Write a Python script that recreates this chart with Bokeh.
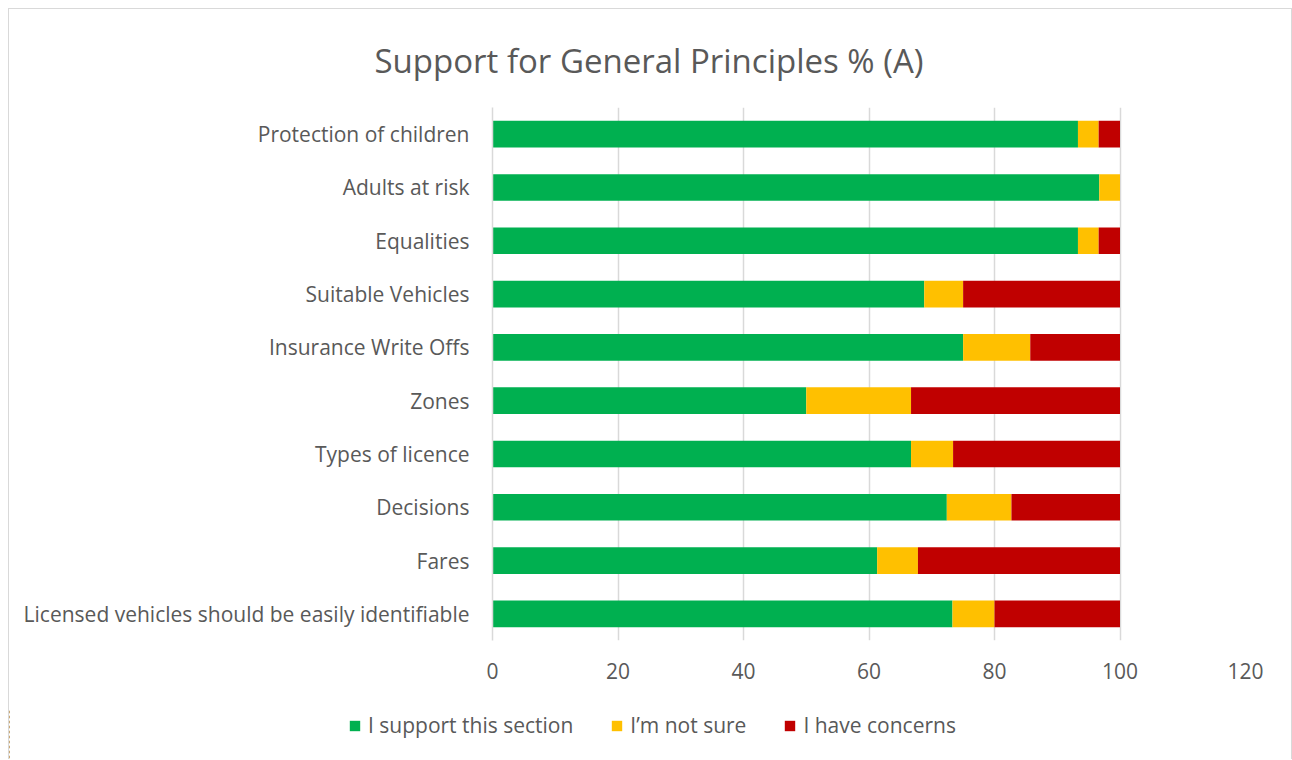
from bokeh.plotting import figure
from bokeh.layouts import column
from bokeh.models import FactorRange, Legend, LegendItem, FixedTicker, ColumnDataSource
from bokeh.embed import file_html
from bokeh.resources import INLINE

categories = [
    "Protection of children",
    "Adults at risk",
    "Equalities",
    "Suitable Vehicles",
    "Insurance Write Offs",
    "Zones",
    "Types of licence",
    "Decisions",
    "Fares",
    "Licensed vehicles should be easily identifiable",
]
support = [93.3, 96.7, 93.3, 68.8, 75.0, 50.0, 66.7, 72.4, 61.3, 73.3]
not_sure = [3.3, 3.3, 3.3, 6.2, 10.7, 16.7, 6.7, 10.3, 6.5, 6.7]
concerns = [3.4, 0.0, 3.4, 25.0, 14.3, 33.3, 26.6, 17.3, 32.2, 20.0]
series_names = ["I support this section", "I\u2019m not sure", "I have concerns"]
series_colors = ["#00B050", "#FFC000", "#C00000"]
x_ticks = [0, 20, 40, 60, 80, 100, 120]
title_text = "Support for General Principles %  (A)"

FONT = "Open Sans"
TXT = "#595959"

source = ColumnDataSource(dict(cat=categories, s=support, n=not_sure, c=concerns))

p = figure(
    width=1282, height=700,
    y_range=FactorRange(factors=list(reversed(categories))),
    x_range=(0, 120),
    output_backend="svg", toolbar_location=None,
    min_border_left=483, min_border_right=46, min_border_top=98, min_border_bottom=69,
)
p.outline_line_color = None

p.hbar_stack(["s", "n", "c"], y="cat", height=0.5, color=series_colors,
             source=source, line_color=None)

# title
p.title.text = title_text
p.title.align = "left"
p.title.offset = -118
p.title.vertical_align = "bottom"
p.title.standoff = 50
p.title.text_font = FONT
p.title.text_font_size = "33px"
p.title.text_font_style = "normal"
p.title.text_color = TXT

# axes
p.xaxis.ticker = FixedTicker(ticks=x_ticks)
p.xaxis.axis_line_color = None
p.xaxis.major_tick_line_color = None
p.xaxis.minor_tick_line_color = None
p.xaxis.major_tick_out = 0
p.xaxis.major_tick_in = 0
p.xaxis.major_label_standoff = 22
p.xaxis.major_label_text_font = FONT
p.xaxis.major_label_text_font_size = "21px"
p.xaxis.major_label_text_color = TXT

p.yaxis.axis_line_color = "#d9d9d9"
p.yaxis.axis_line_width = 1.5
p.yaxis.major_tick_line_color = None
p.yaxis.major_tick_out = 0
p.yaxis.major_tick_in = 0
p.yaxis.major_label_standoff = 23
p.yaxis.major_label_text_font = FONT
p.yaxis.major_label_text_font_size = "21px"
p.yaxis.major_label_text_color = TXT

p.xgrid.grid_line_color = "#d9d9d9"
p.xgrid.grid_line_width = 1.5
p.ygrid.grid_line_color = None

# legend strip: a separate figure whose frame spans its full width, so the legend
# is not clipped; its stacked renderers use the same data but lie outside its x range
q = figure(width=1282, height=50, output_backend="svg", toolbar_location=None,
           x_range=(150, 160), y_range=FactorRange(factors=list(reversed(categories))),
           x_axis_type=None, y_axis_type=None,
           min_border_left=0, min_border_right=0, min_border_top=0, min_border_bottom=0)
q.outline_line_color = None
q.grid.grid_line_color = None
swatches = q.hbar_stack(["s", "n", "c"], y="cat", height=0.5, color=series_colors,
                        source=source, line_color=None)
items = [LegendItem(label=nm, renderers=[r]) for nm, r in zip(series_names, swatches)]
legend = Legend(items=items, orientation="horizontal", location=(339, 20),
                glyph_width=13, glyph_height=13, label_standoff=7, spacing=37,
                padding=0, margin=0, border_line_color=None, background_fill_alpha=0,
                label_text_font=FONT, label_text_font_size="21px", label_text_color=TXT)
q.add_layout(legend, "center")

layout = column(p, column(q), spacing=0, styles={
    "margin-left": "8px", "margin-top": "8px",
    "border-left": "1px solid #d9d9d9", "border-top": "1px solid #d9d9d9",
    "border-right": "1px solid #d9d9d9",
})

open("out.html", "w").write(file_html(layout, INLINE))
